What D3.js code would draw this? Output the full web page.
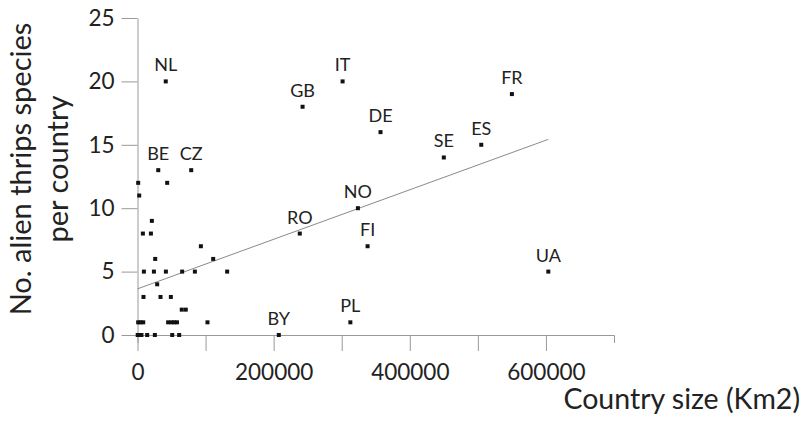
<!DOCTYPE html>
<html>
<head>
<meta charset="utf-8">
<script src="https://cdn.jsdelivr.net/npm/d3@7/dist/d3.min.js"></script>
<style>
  html, body { margin: 0; padding: 0; background: #fff; }
  svg { display: block; }
  text { font-family: Lato, "Open Sans", sans-serif; fill: #222; }
</style>
</head>
<body>
<svg id="chart" width="807" height="425"></svg>
<script>
// Country codes ("" for countries drawn without a label)
const countries = [
  "NL", "BE", "CZ", "GB", "IT", "DE", "SE", "ES", "FR", "NO", "RO", "FI", "UA", "PL", "BY",
  "", "", "", "", "", "", "", "", "", "", "", "", "", "", "", "", "", "", "", "", "",
  "", "", "", "", "", "", "", "", "", "", "", "", "", "", "", "", ""
];
// Country area (km2)
const areas = [
  41500, 30500, 78900, 242500, 301300, 357000, 450000, 505000, 550000, 323800, 238400, 338000, 603500, 312700, 207600,
  1000, 43600, 2500, 21100, 7900, 19700, 93100, 26000, 111200,
  9400, 24100, 41700, 65600, 84300, 131700, 28900,
  8800, 33800, 49000, 65000, 70900,
  1000, 4500, 8400, 45000, 50000, 54000, 58000, 102800,
  300, 2600, 5800, 14200, 25500, 51000, 61200
];
// Number of alien thrips species recorded per country
const species = [
  20, 13, 13, 18, 20, 16, 14, 15, 19, 10, 8, 7, 5, 1, 0,
  12, 12, 11, 9, 8, 8, 7, 6, 6,
  5, 5, 5, 5, 5, 5, 4,
  3, 3, 3, 2, 2,
  1, 1, 1, 1, 1, 1, 1, 1,
  0, 0, 0, 0, 0, 0, 0
];
// Fitted linear trend, start and end points
const trendArea = [0, 603500];
const trendSpecies = [3.64, 15.43];

// Axis ticks
const xTicks = [0, 100000, 200000, 300000, 400000, 500000, 600000];
const xTickLabels = ["0", "", "200000", "", "400000", "", "600000"];
const yTicks = [0, 5, 10, 15, 20, 25];

const svg = d3.select("#chart");
const x = d3.scaleLinear().domain([0, 700000]).range([137.5, 614]);
const y = d3.scaleLinear().domain([0, 25]).range([335, 18]);
const axisColor = "#9a9a9a";

// x axis
const gx = svg.append("g")
  .attr("transform", "translate(0,335)")
  .call(d3.axisBottom(x)
    .tickValues(xTicks)
    .tickFormat((d, i) => xTickLabels[i])
    .tickSize(16)
    .tickSizeOuter(8)
    .tickPadding(13));
// y axis
const gy = svg.append("g")
  .attr("transform", "translate(137.5,0)")
  .call(d3.axisLeft(y)
    .tickValues(yTicks)
    .tickFormat(d3.format("d"))
    .tickSize(16)
    .tickSizeOuter(0)
    .tickPadding(7));

[gx, gy].forEach(g => {
  g.attr("font-family", null).attr("font-size", null);
  g.selectAll("path, line").attr("stroke", axisColor).attr("stroke-width", 1);
  g.selectAll("text").attr("fill", "#222").style("font-size", "22.5px");
});

// trend line
svg.append("line")
  .attr("x1", x(trendArea[0])).attr("y1", y(trendSpecies[0]))
  .attr("x2", x(trendArea[1])).attr("y2", y(trendSpecies[1]))
  .attr("stroke", "#8a8a8a")
  .attr("stroke-width", 1);

// points
const pts = areas.map((a, i) => ({ area: a, n: species[i], code: countries[i] }));
const m = 4;
svg.append("g").selectAll("rect")
  .data(pts)
  .join("rect")
  .attr("x", d => x(d.area) - m / 2)
  .attr("y", d => y(d.n) - m / 2)
  .attr("width", m)
  .attr("height", m)
  .attr("fill", "#111");

// country labels
svg.append("g").selectAll("text")
  .data(pts.filter(d => d.code))
  .join("text")
  .attr("x", d => x(d.area))
  .attr("y", d => y(d.n) - 10)
  .attr("text-anchor", "middle")
  .style("font-size", "18px")
  .text(d => d.code);

// axis titles
svg.append("text")
  .attr("x", 800)
  .attr("y", 409)
  .attr("text-anchor", "end")
  .style("font-size", "28.5px")
  .text("Country size (Km2)");

const yTitle = svg.append("text")
  .attr("transform", "translate(31,169) rotate(-90)")
  .attr("text-anchor", "middle")
  .style("font-size", "29px");
yTitle.append("tspan").attr("x", 0).attr("y", 0).text("No. alien thrips species");
yTitle.append("tspan").attr("x", 0).attr("y", 37).text("per country");
</script>
</body>
</html>
